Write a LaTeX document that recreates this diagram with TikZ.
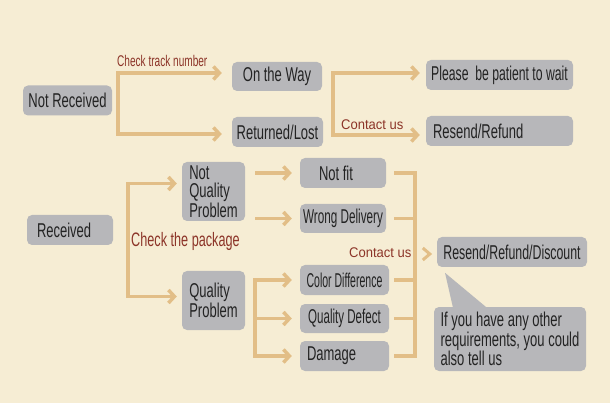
\documentclass[tikz,border=0pt]{standalone}
\usepackage{fontspec}
\setmainfont{Liberation Sans}[FakeStretch=0.65]
\newfontfamily\contactfont{Liberation Sans}[FakeStretch=0.93]
\usepackage{graphicx}
\usepackage{tikz}
\usetikzlibrary{arrows.meta}
\definecolor{paper}{HTML}{F6EDD4}
\definecolor{boxgray}{HTML}{B7B7BA}
\definecolor{ink}{HTML}{232323}
\definecolor{flowtan}{HTML}{E2BE87}
\definecolor{rust}{HTML}{8C3428}
\newcommand{\sq}[2]{\scalebox{#1}[1]{#2}}
\tikzset{
  >={Straight Barb[length=6pt,width=13pt]},
  box/.style={fill=boxgray, rounded corners=5pt, text=ink, inner sep=0pt, minimum height=30pt,
    font=\fontsize{20}{18.5}\selectfont, align=left},
  flow/.style={draw=flowtan, line width=3.5pt},
  arrow/.style={flow, ->},
  fork/.style={flow, <->},
  lbl/.style={text=rust, inner sep=0pt, anchor=base west}
}

\begin{document}
\begin{tikzpicture}[x=1pt, y=-1pt]
  \useasboundingbox (0,0) rectangle (610,403);
  \fill[paper] (0,0) rectangle (610,403);

  \node[box, minimum width=89pt] (nrec) at (67.5,100.5) {Not Received};
  \node[box, minimum width=90pt, minimum height=29pt] (way) at (277,76.5) {On the Way};
  \node[box, minimum width=91pt] (lost) at (277.5,132) {Returned/Lost};
  \node[box, minimum width=147pt] (wait) at (499.5,75) {\sq{0.94}{Please\ \ be patient to wait}};
  \node[box, text width=133pt, inner xsep=7pt] (refund) at (499.5,131) {Resend/Refund};

  \node[box, text width=66pt, inner xsep=10pt] (rec) at (70,230) {Received};
  \node[box, minimum width=63pt, minimum height=59pt] (nqp) at (213.5,191.5) {Not\\Quality\\Problem};
  \node[box, minimum width=63pt, minimum height=59pt] (qp) at (213.5,300.5) {Quality\\Problem};
  \node[box, text width=48pt, inner xsep=19pt] (notfit) at (343,173) {{\spaceskip=0pt Not fit}};
  \node[box, minimum width=86pt, minimum height=29pt] (wrong) at (343,218.5) {\sq{0.9}{Wrong Delivery}};
  \node[box, minimum width=89pt] (color) at (344.5,280) {\sq{0.81}{Color Difference}};
  \node[box, minimum width=89pt, minimum height=29pt] (defect) at (344.5,318.5) {\sq{0.89}{Quality Defect}};
  \node[box, text width=75pt, inner xsep=7pt] (damage) at (344.5,356) {Damage};
  \node[box, minimum width=150pt] (rrd) at (512,252) {\sq{0.95}{Resend/Refund/Discount}};
  \node[box, minimum width=152pt, minimum height=64pt, font=\fontsize{20}{18}\selectfont] (note) at (510,339)
    {If you have any other\\requirements, you could\\also tell us};
  \fill[boxgray] ([shift={(-65,-34)}]note.north) -- ([shift={(-57,1)}]note.north)
    -- ([shift={(-23,1)}]note.north) -- cycle;

  \draw[fork] ([xshift=-10pt,yshift=3.5pt]way.west) -| ([xshift=6pt]nrec.east)
    |- ([xshift=-10pt,yshift=-2pt]lost.west);
  \draw[fork] ([xshift=-6pt,yshift=2pt]wait.west) -| ([xshift=11pt]way.east)
    |- ([xshift=-6pt,yshift=-4pt]refund.west);

  \draw[fork] ([xshift=-5pt,yshift=8pt]nqp.west) -| ([xshift=15pt]rec.east)
    |- ([xshift=-5pt,yshift=4pt]qp.west);
  \foreach \b in {notfit,wrong}
    \draw[arrow] ([xshift=10pt]nqp.east |- \b.west) -- ([xshift=-8pt]\b.west);
  \draw[fork] ([xshift=-8pt]color.west) -| ([xshift=10pt]qp.east) |- ([xshift=-8pt]damage.west);
  \draw[arrow] ([xshift=10pt]qp.east |- defect.west) -- ([xshift=-8pt]defect.west);

  \coordinate (colin) at (394,0);
  \coordinate (col) at (415,0);
  \draw[flow] (colin |- notfit.east) -- (col |- notfit.east) -- (col |- damage.east) -- (colin |- damage.east);
  \foreach \b in {wrong,color,defect}
    \draw[flow] (colin |- \b.east) -- (col |- \b.east);
  \draw[flow, line width=3pt] ([xshift=-14pt,yshift=4pt]rrd.west) -- ([xshift=-7pt,yshift=-2pt]rrd.west)
    -- ([xshift=-14pt,yshift=-8pt]rrd.west);

  \node[lbl, font=\fontsize{15.5}{15.5}\selectfont] (track) at (117,67) {Check track number};
  \node[lbl, font=\contactfont\fontsize{14}{14}\selectfont] (contact1) at (341,130) {Contact us};
  \node[lbl, font=\fontsize{19.5}{19.5}\selectfont] (package) at (131,247) {Check the package};
  \node[lbl, font=\contactfont\fontsize{14}{14}\selectfont] (contact2) at (349,258) {Contact us};
\end{tikzpicture}
\end{document}
